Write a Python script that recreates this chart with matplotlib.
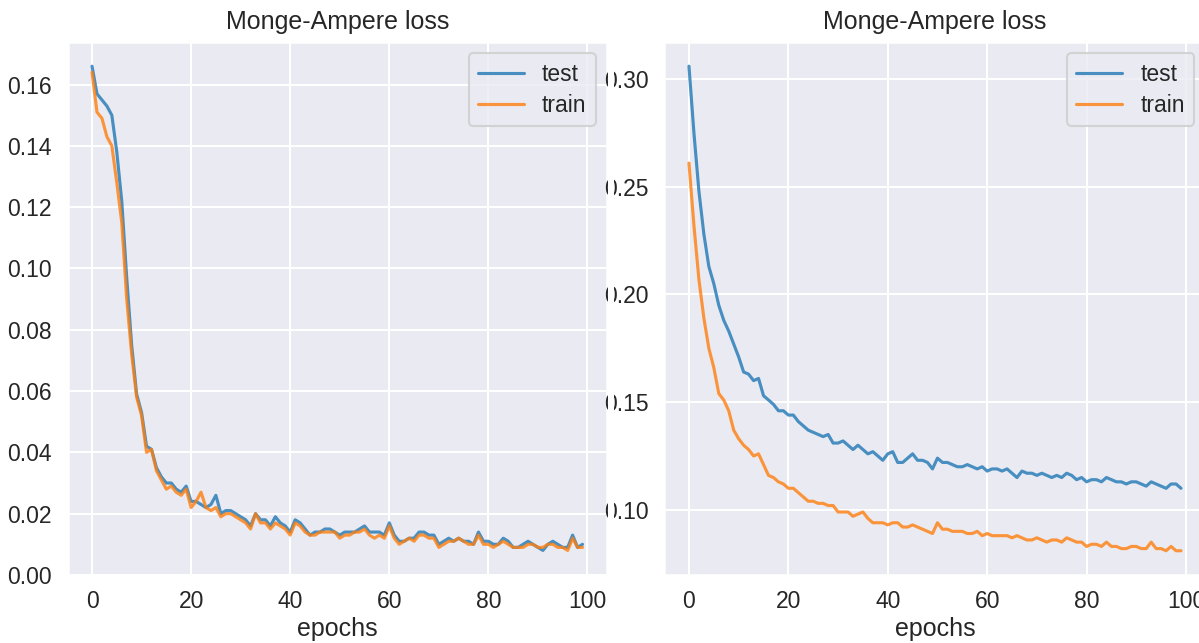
import numpy as np
import matplotlib
matplotlib.use('Agg')
import matplotlib.pyplot as plt
from matplotlib.patches import Rectangle
import seaborn as sns

sns.set_theme(style='darkgrid')
plt.rcParams['font.family'] = ['Liberation Sans', 'DejaVu Sans']
plt.rcParams['xtick.major.pad'] = 1.2
plt.rcParams['ytick.major.pad'] = 1.5

epochs = np.arange(100)

# left run
test_a = [.166, .157, .155, .153, .150, .138, .122, .097, .075, .059,
          .053, .042, .041, .035, .032, .030, .030, .028, .027, .029,
          .024, .024, .023, .022, .023, .026, .020, .021, .021, .020,
          .019, .018, .016, .020, .018, .018, .016, .019, .017, .016,
          .014, .018, .017, .015, .013, .014, .014, .015, .015, .014,
          .013, .014, .014, .014, .015, .016, .014, .014, .014, .013,
          .017, .013, .011, .011, .012, .012, .014, .014, .013, .013,
          .010, .011, .012, .011, .012, .011, .011, .010, .014, .011,
          .011, .010, .010, .012, .011, .009, .009, .010, .011, .010,
          .009, .008, .010, .011, .010, .009, .009, .013, .009, .010]
train_a = [.164, .151, .149, .143, .140, .128, .115, .090, .072, .058,
           .052, .040, .041, .034, .031, .028, .029, .027, .026, .028,
           .022, .024, .027, .022, .021, .022, .019, .020, .020, .019,
           .018, .017, .015, .020, .017, .017, .015, .017, .016, .015,
           .013, .017, .016, .014, .013, .013, .014, .014, .014, .014,
           .012, .013, .013, .014, .014, .015, .013, .012, .013, .012,
           .016, .012, .010, .011, .012, .011, .013, .013, .012, .012,
           .009, .010, .011, .011, .012, .011, .010, .010, .013, .010,
           .010, .009, .010, .011, .010, .009, .009, .009, .010, .010,
           .009, .009, .010, .010, .009, .009, .008, .012, .009, .009]

# right run
test_b = [.306, .275, .248, .228, .213, .205, .195, .188, .183, .177,
          .171, .164, .163, .160, .161, .153, .151, .149, .146, .146,
          .144, .144, .141, .139, .137, .136, .135, .134, .135, .131,
          .131, .132, .130, .128, .130, .128, .126, .127, .125, .123,
          .126, .127, .122, .122, .124, .126, .123, .123, .122, .119,
          .124, .122, .122, .121, .120, .120, .121, .120, .119, .120,
          .118, .119, .119, .118, .119, .117, .115, .118, .117, .117,
          .116, .117, .116, .115, .116, .115, .117, .116, .114, .115,
          .113, .114, .114, .113, .115, .114, .113, .113, .112, .113,
          .113, .112, .111, .113, .112, .111, .110, .112, .112, .110]
train_b = [.261, .232, .207, .189, .175, .166, .154, .151, .146, .137,
           .133, .130, .128, .125, .126, .121, .116, .115, .113, .112,
           .110, .110, .108, .106, .104, .104, .103, .103, .102, .102,
           .099, .099, .099, .097, .098, .099, .096, .094, .094, .094,
           .093, .094, .094, .092, .092, .093, .092, .091, .090, .089,
           .094, .091, .091, .090, .090, .090, .089, .089, .090, .088,
           .089, .088, .088, .088, .088, .087, .088, .087, .086, .086,
           .087, .086, .085, .086, .086, .085, .087, .086, .085, .085,
           .083, .084, .084, .083, .085, .083, .083, .082, .082, .083,
           .083, .082, .082, .085, .082, .082, .081, .083, .081, .081]

fig = plt.figure(figsize=(1199 / 150, 643 / 150), dpi=150)
ax1 = fig.add_axes([0.0563, 0.1058, 0.4500, 0.8289])
ax2 = fig.add_axes([0.5541, 0.1058, 0.4514, 0.8289])

for ax, te, tr in [(ax1, test_a, train_a), (ax2, test_b, train_b)]:
    ax.plot(epochs, te, color='tab:blue', alpha=0.8, label='test')
    ax.plot(epochs, tr, color='tab:orange', alpha=0.8, label='train')
    ax.set_title('Monge-Ampere loss')
    ax.set_xlabel('epochs', labelpad=2)
    ax.legend(loc='upper right', labelspacing=0.35)

ax1.set_ylim(bottom=0)

# the right panel was cut off on its left side
fig.add_artist(Rectangle((607.5 / 1199, 0), 6 / 1199, 1, transform=fig.transFigure,
                         facecolor='white', edgecolor='none', zorder=10))

fig.savefig('out.png', dpi=150)
